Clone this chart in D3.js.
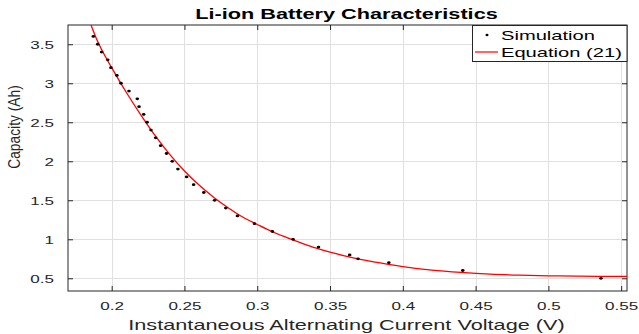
<!DOCTYPE html>
<html>
<head>
    <title>Li-ion Battery Characteristics</title>
    <script src="https://d3js.org/d3.v7.min.js"></script>
    <style>
        body { margin: 0; background: #fff; }
        text { font-family: "Liberation Sans", Arial, sans-serif; }
        .grid line { stroke: #e0e0e0; stroke-width: 1px; }
        .axis path { display: none; }
        .axis line { stroke: #262626; }
        .axis text { fill: #262626; font-size: 11px; }
    </style>
</head>
<body>
<script>
    // simulation points
    var simVoltage = [0.1874, 0.1904, 0.1931, 0.1973, 0.1995, 0.2036, 0.2064, 0.2119, 0.2176,
        0.2188, 0.2220, 0.2243, 0.2270, 0.2302, 0.2336, 0.2377, 0.2416, 0.2455, 0.2515,
        0.2563, 0.2633, 0.2707, 0.2784, 0.2864, 0.2981, 0.3104, 0.3246, 0.3421, 0.3635,
        0.3692, 0.3904, 0.4412, 0.5361];
    var simCapacity = [3.6, 3.5, 3.4, 3.3, 3.2, 3.1, 3.0, 2.9, 2.8, 2.7, 2.6, 2.5, 2.4, 2.3,
        2.2, 2.1, 2.0, 1.9, 1.8, 1.7, 1.6, 1.5, 1.4, 1.3, 1.2, 1.1, 1.0, 0.9, 0.8, 0.75,
        0.7, 0.6, 0.5];

    // equation (21) curve
    var eqVoltage = [0.1858, 0.19, 0.20, 0.21, 0.22, 0.23, 0.24, 0.25, 0.26, 0.27, 0.28,
        0.29, 0.30, 0.31, 0.32, 0.33, 0.34, 0.35, 0.36, 0.37, 0.38, 0.39, 0.40, 0.42,
        0.44, 0.46, 0.48, 0.50, 0.52, 0.554];
    var eqCapacity = [3.747, 3.55, 3.2, 2.885, 2.595, 2.325, 2.085, 1.875, 1.695, 1.54, 1.405,
        1.285, 1.19, 1.10, 1.025, 0.955, 0.89, 0.835, 0.787, 0.745, 0.71, 0.678, 0.65, 0.605,
        0.575, 0.553, 0.54, 0.532, 0.527, 0.525];

    var xTicks = [0.2, 0.25, 0.3, 0.35, 0.4, 0.45, 0.5, 0.55];
    var yTicks = [0.5, 1, 1.5, 2, 2.5, 3, 3.5];
    var legendLabels = ["Simulation", "Equation (21)"];

    var W = 639, H = 334;
    var pLeft = 68, pRight = 627, pTop = 25, pBottom = 291;
    var sx = 1.55; // text is drawn wide, like the reference

    var svg = d3.select("body").append("svg")
        .attr("width", W)
        .attr("height", H);

    var x = d3.scaleLinear().domain([0.17, 0.554]).range([pLeft, pRight]);
    var y = d3.scaleLinear().domain([0.337, 3.747]).range([pBottom, pTop]);

    // grid
    var grid = svg.append("g").attr("class", "grid");
    grid.selectAll(".gx").data(xTicks).enter().append("line")
        .attr("x1", d => Math.round(x(d)) + 0.5).attr("x2", d => Math.round(x(d)) + 0.5)
        .attr("y1", pTop).attr("y2", pBottom);
    grid.selectAll(".gy").data(yTicks).enter().append("line")
        .attr("y1", d => Math.round(y(d)) + 0.5).attr("y2", d => Math.round(y(d)) + 0.5)
        .attr("x1", pLeft).attr("x2", pRight);

    // axes, ticks pointing inward
    var fmt = d3.format("~g");
    var gx = svg.append("g").attr("class", "axis")
        .attr("transform", "translate(0," + pBottom + ")")
        .call(d3.axisBottom(x).tickValues(xTicks).tickSizeInner(-5).tickSizeOuter(0).tickFormat(fmt));
    gx.selectAll("text")
        .attr("y", 0).attr("dy", null)
        .attr("transform", "translate(0,19) scale(" + sx + ",1)");

    var gy = svg.append("g").attr("class", "axis")
        .attr("transform", "translate(" + pLeft + ",0)")
        .call(d3.axisLeft(y).tickValues(yTicks).tickSizeInner(-5).tickSizeOuter(0).tickFormat(fmt));
    gy.selectAll("text")
        .attr("x", 0).attr("dy", null)
        .attr("transform", "translate(-14,4) scale(" + sx + ",1)");

    svg.append("g").attr("class", "axis")
        .attr("transform", "translate(0," + pTop + ")")
        .call(d3.axisTop(x).tickValues(xTicks).tickSizeInner(-5).tickSizeOuter(0).tickFormat(""));
    svg.append("g").attr("class", "axis")
        .attr("transform", "translate(" + pRight + ",0)")
        .call(d3.axisRight(y).tickValues(yTicks).tickSizeInner(-5).tickSizeOuter(0).tickFormat(""));

    svg.append("rect")
        .attr("x", pLeft).attr("y", pTop)
        .attr("width", pRight - pLeft).attr("height", pBottom - pTop)
        .attr("fill", "none").attr("stroke", "#262626").attr("stroke-width", 1);

    // data
    svg.append("clipPath").attr("id", "plot")
        .append("rect").attr("x", pLeft).attr("y", pTop)
        .attr("width", pRight - pLeft).attr("height", pBottom - pTop);

    var eq = eqVoltage.map((v, i) => [v, eqCapacity[i]]);
    svg.append("path")
        .datum(eq)
        .attr("clip-path", "url(#plot)")
        .attr("fill", "none")
        .attr("stroke", "#ff0000")
        .attr("stroke-width", 1.3)
        .attr("d", d3.line().x(d => x(d[0])).y(d => y(d[1])).curve(d3.curveMonotoneX));

    svg.append("g").selectAll("ellipse")
        .data(simVoltage.map((v, i) => [v, simCapacity[i]]))
        .enter().append("ellipse")
        .attr("cx", d => x(d[0]))
        .attr("cy", d => y(d[1]))
        .attr("rx", 1.8).attr("ry", 1.4)
        .attr("fill", "#000");

    // legend
    var lg = svg.append("g");
    lg.append("rect")
        .attr("x", 472.5).attr("y", 25.5).attr("width", pRight - 472.5).attr("height", 36)
        .attr("fill", "#fff").attr("stroke", "#262626").attr("stroke-width", 1);
    lg.append("ellipse").attr("cx", 487).attr("cy", 35).attr("rx", 1.5).attr("ry", 1.2).attr("fill", "#000");
    lg.append("line").attr("x1", 475).attr("x2", 498).attr("y1", 52).attr("y2", 52)
        .attr("stroke", "#ff0000").attr("stroke-width", 1.2);
    lg.selectAll("text.lab").data(legendLabels).enter().append("text")
        .attr("transform", (d, i) => "translate(501," + (39.5 + i * 17.5) + ") scale(" + sx + ",1)")
        .attr("font-size", "13px")
        .attr("fill", "#000")
        .text(d => d);

    // titles
    svg.append("text")
        .attr("transform", "translate(" + ((194 + 499) / 2) + ",18.5) scale(" + sx + ",1)")
        .attr("text-anchor", "middle")
        .attr("font-size", "14px")
        .attr("font-weight", "bold")
        .attr("fill", "#000")
        .text("Li-ion Battery Characteristics");

    svg.append("text")
        .attr("transform", "translate(" + ((126 + 567) / 2) + ",330) scale(" + sx + ",1)")
        .attr("text-anchor", "middle")
        .attr("font-size", "14px")
        .attr("fill", "#262626")
        .text("Instantaneous Alternating Current Voltage (V)");

    svg.append("text")
        .attr("transform", "translate(20,127) rotate(-90) scale(0.92,1.05)")
        .attr("text-anchor", "middle")
        .attr("font-size", "15px")
        .attr("fill", "#262626")
        .text("Capacity (Ah)");
</script>
</body>
</html>
